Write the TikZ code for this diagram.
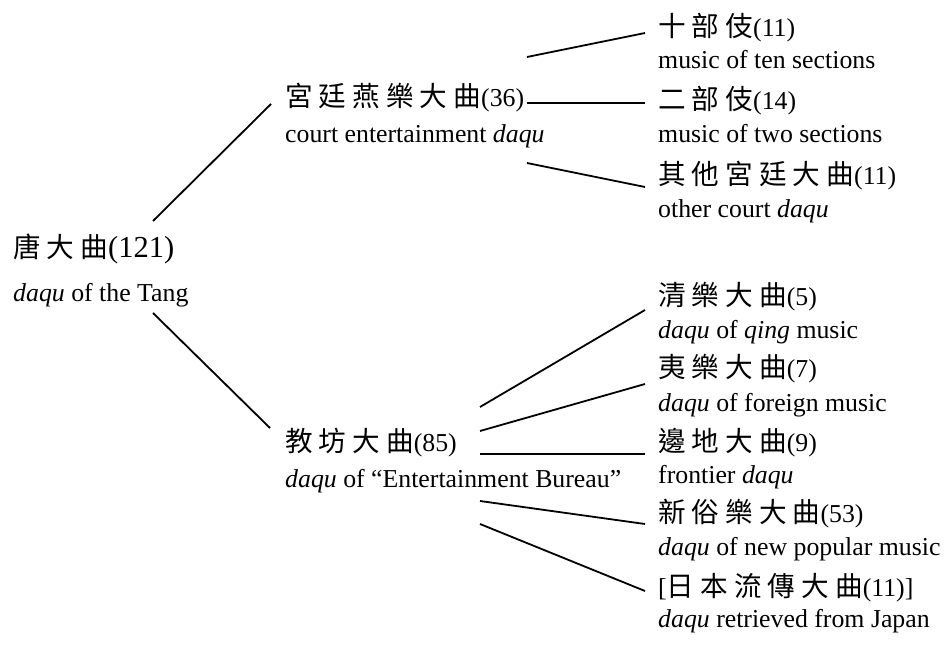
\documentclass[tikz,border=0pt]{standalone}
\usepackage{fontspec}
\setmainfont{Liberation Serif}
\newfontfamily\cjk[Scale=1.07,LetterSpace=22]{Noto Sans CJK TC}
\usetikzlibrary{calc}
\begin{document}
\begin{tikzpicture}[x=1pt,y=-1pt,
  lbl/.style={anchor=base west, inner sep=0pt, font=\fontsize{25.8}{30}\selectfont},
  link/.style={line width=1.8pt}]
\useasboundingbox (0,0) rectangle (945,647);
% root
\node[lbl] (root1) at (13,257) {{\cjk 唐大曲}{\fontsize{30.5}{34}\selectfont(121)}};
\node[lbl] (root2) at (13,301) {\textit{daqu} of the Tang};
% middle
\node[lbl] (court1) at (285,107) {{\cjk 宮廷燕樂大曲}(36)};
\node[lbl] (court2) at (285,143) {court entertainment \textit{daqu}};
\node[lbl] (jiao1) at (285,451) {{\cjk 教坊大曲}(85)};
\node[lbl] (jiao2) at (285,487) {\textit{daqu} of ``Entertainment Bureau''};
% right upper
\node[lbl] (shi1) at (658,37) {{\cjk 十部伎}(11)};
\node[lbl] (shi2) at (658,69) {music of ten sections};
\node[lbl] (er1) at (658,110) {{\cjk 二部伎}(14)};
\node[lbl] (er2) at (658,143) {music of two sections};
\node[lbl] (qi1) at (658,185) {{\cjk 其他宮廷大曲}(11)};
\node[lbl] (qi2) at (658,218) {other court \textit{daqu}};
% right lower
\node[lbl] (qing1) at (658,305) {{\cjk 清樂大曲}(5)};
\node[lbl] (qing2) at (658,338) {\textit{daqu} of \textit{qing} music};
\node[lbl] (yi1) at (658,377) {{\cjk 夷樂大曲}(7)};
\node[lbl] (yi2) at (658,411) {\textit{daqu} of foreign music};
\node[lbl] (bian1) at (658,451) {{\cjk 邊地大曲}(9)};
\node[lbl] (bian2) at (658,483) {frontier \textit{daqu}};
\node[lbl] (xin1) at (658,522) {{\cjk 新俗樂大曲}(53)};
\node[lbl] (xin2) at (658,555) {\textit{daqu} of new popular music};
\node[lbl] (ri1) at (658,596) {[{\cjk 日本流傳大曲}(11)]};
\node[lbl] (ri2) at (658,627) {\textit{daqu} retrieved from Japan};
% connectors
\draw[link] ($(root1.base west)+(140,-36)$) -- ($(court1.base west)+(-14,-3)$);
\draw[link] ($(root2.base west)+(140,12)$) -- ($(jiao1.base west)+(-15,-23)$);
\draw[link] ($(court1.base west)+(242,-50)$) -- ($(shi1.base west)+(-13,-4)$);
\draw[link] ($(court1.base west)+(242,-4)$) -- ($(er1.base west)+(-13,-7)$);
\draw[link] ($(court1.base west)+(242,56)$) -- ($(qi1.base west)+(-13,2)$);
\draw[link] ($(jiao1.base west)+(195,-44)$) -- ($(qing1.base west)+(-13,5)$);
\draw[link] ($(jiao1.base west)+(195,-20)$) -- ($(yi1.base west)+(-13,7)$);
\draw[link] ($(jiao1.base west)+(195,3)$) -- ($(bian1.base west)+(-13,3)$);
\draw[link] ($(jiao1.base west)+(195,50)$) -- ($(xin1.base west)+(-13,2)$);
\draw[link] ($(jiao1.base west)+(195,73)$) -- ($(ri1.base west)+(-13,-5)$);
\end{tikzpicture}
\end{document}
